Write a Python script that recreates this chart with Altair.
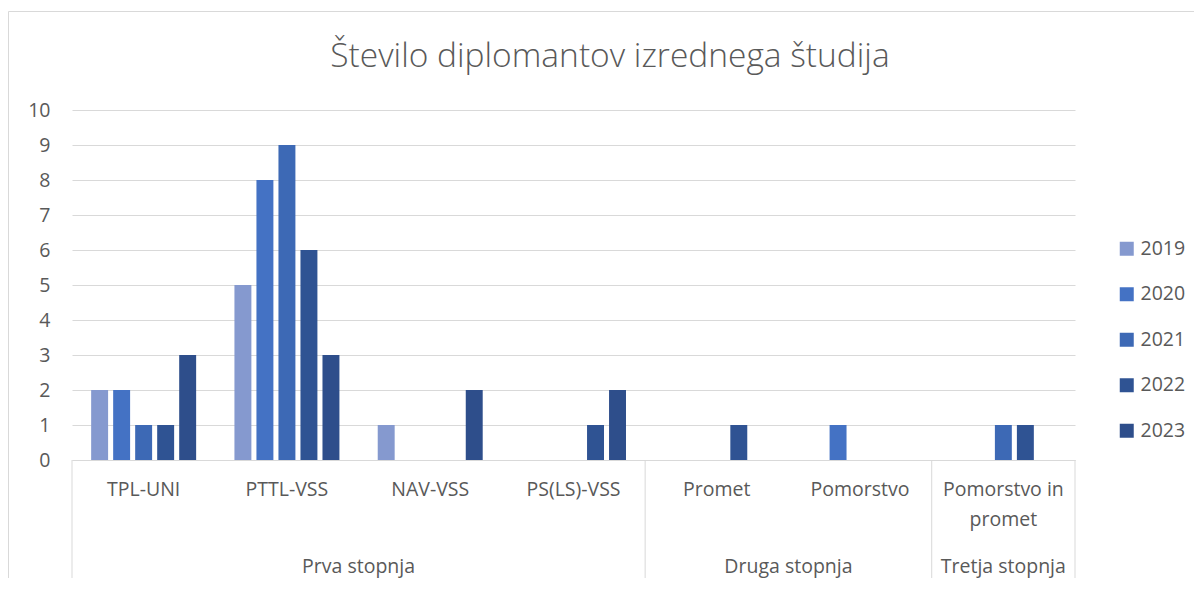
import altair as alt
import pandas as pd

TITLE = "Število diplomantov izrednega študija"
categories = ["TPL-UNI", "PTTL-VSS", "NAV-VSS", "PS(LS)-VSS", "Promet", "Pomorstvo", "Pomorstvo in promet"]
groups = ["Prva stopnja", "Prva stopnja", "Prva stopnja", "Prva stopnja",
          "Druga stopnja", "Druga stopnja", "Tretja stopnja"]
years = ["2019", "2020", "2021", "2022", "2023"]
v2019 = [2, 5, 1, 0, 0, 0, 0]
v2020 = [2, 8, 0, 0, 0, 1, 0]
v2021 = [1, 9, 0, 0, 0, 0, 1]
v2022 = [1, 6, 0, 1, 1, 0, 1]
v2023 = [3, 3, 2, 2, 0, 0, 0]
colors = ["#8599CF", "#4472C4", "#3D69B5", "#2F5393", "#2E4E8B"]

FONT = "Open Sans"
GRAY = "#595959"
LINE = "#D9D9D9"
W, H = 1003, 350
FS = 19.5

series = dict(zip(years, [v2019, v2020, v2021, v2022, v2023]))
rows = []
for y, vals in series.items():
    for c, v in zip(categories, vals):
        if v:
            rows.append({"category": c, "year": y, "value": v})
df = pd.DataFrame(rows)

# group boundaries and centres (in category units)
grp_names, grp_start, grp_end = [], [], []
for i, g in enumerate(groups):
    if not grp_names or grp_names[-1] != g:
        grp_names.append(g)
        grp_start.append(i)
        grp_end.append(i + 1)
    else:
        grp_end[-1] = i + 1
bounds = pd.DataFrame({"b": [0] + grp_end})
glabels = pd.DataFrame({"name": grp_names,
                        "mid": [(s + e) / 2 for s, e in zip(grp_start, grp_end)]})

xq = alt.Scale(domain=[0, len(categories)], nice=False, zero=True)

bars = alt.Chart(df).mark_bar().encode(
    x=alt.X("category:N", sort=categories,
            scale=alt.Scale(domain=categories, paddingInner=0, paddingOuter=0),
            axis=alt.Axis(title=None, ticks=False, domainColor=LINE, domainWidth=1,
                          labelFont=FONT, labelFontSize=FS, labelColor=GRAY,
                          labelPadding=20, labelAngle=0, labelLineHeight=30,
                          labelLimit=0,
                          labelExpr="datum.value == 'Pomorstvo in promet' ? ['Pomorstvo in', 'promet'] : datum.label")),
    xOffset=alt.XOffset("year:N", scale=alt.Scale(domain=years, paddingInner=0.23, paddingOuter=0.87)),
    y=alt.Y("value:Q", scale=alt.Scale(domain=[0, 10], nice=False),
            axis=alt.Axis(title=None, values=list(range(11)), grid=True, gridColor=LINE,
                          domain=False, ticks=False, labelPadding=22,
                          labelFont=FONT, labelFontSize=FS, labelColor=GRAY)),
    color=alt.Color("year:N", scale=alt.Scale(domain=years, range=colors),
                    legend=alt.Legend(title=None, orient="none", legendX=1045, legendY=129,
                                      symbolType="square", symbolSize=196,
                                      symbolStrokeWidth=0, symbolOpacity=1,
                                      labelFont=FONT, labelFontSize=FS, labelColor=GRAY,
                                      labelOffset=4, rowPadding=24.5, padding=0)),
)

rules = alt.Chart(bounds).mark_rule(color=LINE, strokeWidth=1).encode(
    x=alt.X("b:Q", scale=xq, axis=None),
    y=alt.value(H),
    y2=alt.value(H + 140),
)

glab = alt.Chart(glabels).mark_text(font=FONT, fontSize=FS, color=GRAY,
                                    baseline="alphabetic").encode(
    x=alt.X("mid:Q", scale=xq, axis=None),
    y=alt.value(H + 113),
    text="name:N",
)

title = alt.Chart(pd.DataFrame({"t": [TITLE]})).mark_text(
    font=FONT, fontSize=33.5, fontWeight=300, color=GRAY, baseline="alphabetic").encode(
    x=alt.value(538), y=alt.value(-43), text="t:N")

border = alt.Chart(pd.DataFrame({"a": [0]})).mark_rect(
    fill=None, stroke=LINE, strokeWidth=1).encode(
    x=alt.value(-63.5), x2=alt.value(W + 300), y=alt.value(-98.5), y2=alt.value(H + 300))

chart = alt.layer(border, title, bars, rules, glab).resolve_scale(x="independent").properties(
    width=W, height=H,
    autosize=alt.AutoSizeParams(type="none"),
    padding={"left": 64, "top": 102, "right": 119, "bottom": 118},
).configure_view(stroke=None)

chart.save("out.html", embed_options={"renderer": "svg", "actions": False})
